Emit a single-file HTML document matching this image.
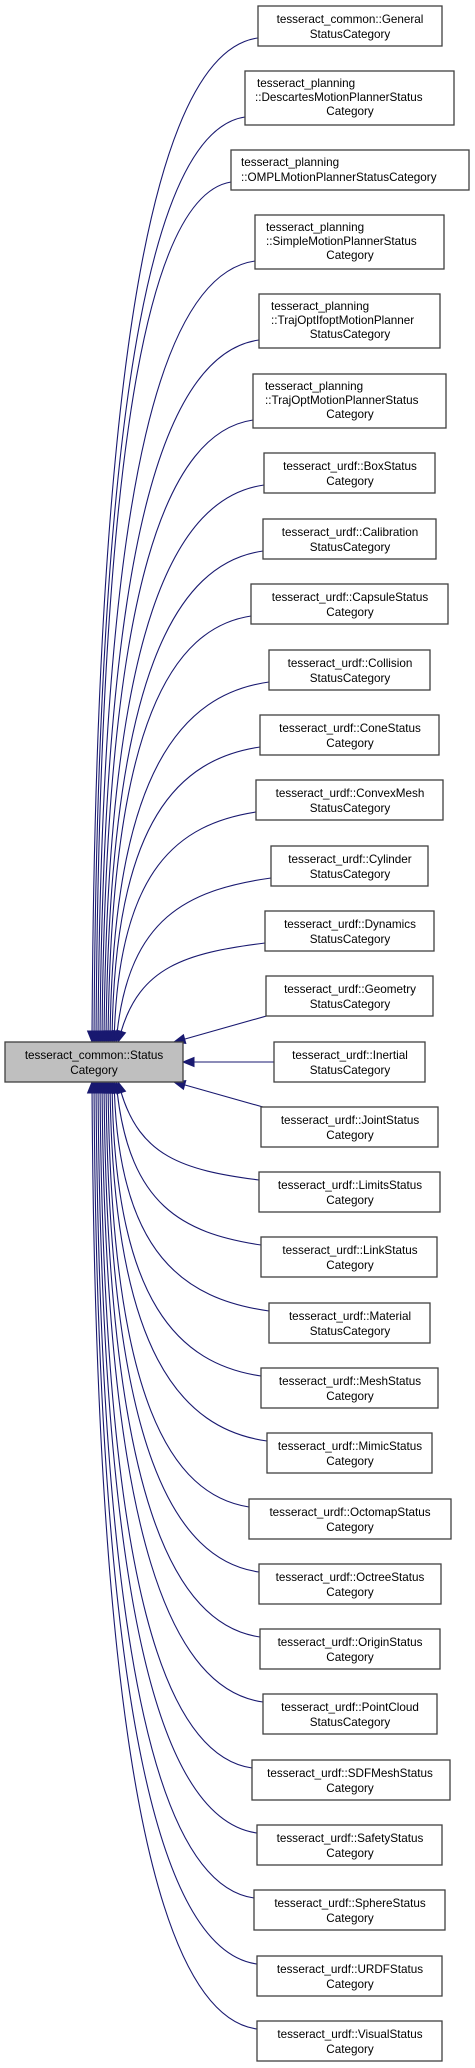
<!DOCTYPE html>
<html><head><meta charset="utf-8"><style>
html,body{margin:0;padding:0;background:#fff;width:475px;height:2068px;overflow:hidden}
svg{display:block}
text{font-family:"Liberation Sans",Arial,sans-serif;font-size:11.7px;fill:#000}
</style></head><body>
<svg id="s" width="475" height="2068" viewBox="0 0 475 2068" xmlns="http://www.w3.org/2000/svg">
<g id="edges" fill="none" stroke="#191970" stroke-width="1.1"></g>
<g id="heads" fill="#191970" stroke="#191970"></g>
<g stroke="#404040" stroke-width="1.3">
<rect x="5" y="1042" width="178" height="40" fill="#bfbfbf"/>
</g>
<text x="94" y="1059" text-anchor="middle">tesseract_common::Status</text>
<text x="94" y="1074" text-anchor="middle">Category</text>
<g id="boxes" fill="#fff" stroke="#404040" stroke-width="1.3">
<rect x="258" y="6" width="184" height="40"/>
<rect x="245" y="71" width="209" height="54"/>
<rect x="231" y="150" width="238" height="40"/>
<rect x="255" y="215" width="189" height="54"/>
<rect x="259" y="294" width="181" height="54"/>
<rect x="253" y="374" width="193" height="54"/>
<rect x="264" y="453" width="171" height="40"/>
<rect x="263" y="519" width="173" height="40"/>
<rect x="251" y="584" width="197" height="40"/>
<rect x="269" y="650" width="161" height="40"/>
<rect x="260" y="715" width="179" height="40"/>
<rect x="256" y="780" width="187" height="40"/>
<rect x="271" y="846" width="157" height="40"/>
<rect x="265" y="911" width="169" height="40"/>
<rect x="266" y="976" width="167" height="40"/>
<rect x="274" y="1042" width="151" height="40"/>
<rect x="261" y="1107" width="177" height="40"/>
<rect x="259" y="1172" width="181" height="40"/>
<rect x="261" y="1237" width="176" height="40"/>
<rect x="269" y="1303" width="161" height="40"/>
<rect x="261" y="1368" width="177" height="40"/>
<rect x="267" y="1433" width="165" height="40"/>
<rect x="249" y="1499" width="202" height="40"/>
<rect x="259" y="1564" width="182" height="40"/>
<rect x="260" y="1629" width="180" height="40"/>
<rect x="263" y="1694" width="174" height="40"/>
<rect x="252" y="1760" width="198" height="40"/>
<rect x="257" y="1825" width="185" height="40"/>
<rect x="254" y="1890" width="191" height="40"/>
<rect x="257" y="1956" width="185" height="40"/>
<rect x="257" y="2021" width="185" height="40"/>
</g>
<g text-anchor="middle">
<text x="350" y="23">tesseract_common::General</text><text x="350" y="38">StatusCategory</text>
<text x="257" y="87" text-anchor="start">tesseract_planning</text><text x="255" y="101" text-anchor="start">::DescartesMotionPlannerStatus</text><text x="350" y="115">Category</text>
<text x="241" y="166" text-anchor="start">tesseract_planning</text><text x="241" y="181" text-anchor="start">::OMPLMotionPlannerStatusCategory</text>
<text x="266" y="231" text-anchor="start">tesseract_planning</text><text x="266" y="245" text-anchor="start">::SimpleMotionPlannerStatus</text><text x="350" y="259">Category</text>
<text x="271" y="310" text-anchor="start">tesseract_planning</text><text x="271" y="324" text-anchor="start">::TrajOptIfoptMotionPlanner</text><text x="350" y="338">StatusCategory</text>
<text x="265" y="390" text-anchor="start">tesseract_planning</text><text x="265" y="404" text-anchor="start">::TrajOptMotionPlannerStatus</text><text x="350" y="418">Category</text>
<text x="350" y="470">tesseract_urdf::BoxStatus</text><text x="350" y="485">Category</text>
<text x="350" y="536">tesseract_urdf::Calibration</text><text x="350" y="551">StatusCategory</text>
<text x="350" y="601">tesseract_urdf::CapsuleStatus</text><text x="350" y="616">Category</text>
<text x="350" y="667">tesseract_urdf::Collision</text><text x="350" y="682">StatusCategory</text>
<text x="350" y="732">tesseract_urdf::ConeStatus</text><text x="350" y="747">Category</text>
<text x="350" y="797">tesseract_urdf::ConvexMesh</text><text x="350" y="812">StatusCategory</text>
<text x="350" y="863">tesseract_urdf::Cylinder</text><text x="350" y="878">StatusCategory</text>
<text x="350" y="928">tesseract_urdf::Dynamics</text><text x="350" y="943">StatusCategory</text>
<text x="350" y="993">tesseract_urdf::Geometry</text><text x="350" y="1008">StatusCategory</text>
<text x="350" y="1059">tesseract_urdf::Inertial</text><text x="350" y="1074">StatusCategory</text>
<text x="350" y="1124">tesseract_urdf::JointStatus</text><text x="350" y="1139">Category</text>
<text x="350" y="1189">tesseract_urdf::LimitsStatus</text><text x="350" y="1204">Category</text>
<text x="350" y="1254">tesseract_urdf::LinkStatus</text><text x="350" y="1269">Category</text>
<text x="350" y="1320">tesseract_urdf::Material</text><text x="350" y="1335">StatusCategory</text>
<text x="350" y="1385">tesseract_urdf::MeshStatus</text><text x="350" y="1400">Category</text>
<text x="350" y="1450">tesseract_urdf::MimicStatus</text><text x="350" y="1465">Category</text>
<text x="350" y="1516">tesseract_urdf::OctomapStatus</text><text x="350" y="1531">Category</text>
<text x="350" y="1581">tesseract_urdf::OctreeStatus</text><text x="350" y="1596">Category</text>
<text x="350" y="1646">tesseract_urdf::OriginStatus</text><text x="350" y="1661">Category</text>
<text x="350" y="1711">tesseract_urdf::PointCloud</text><text x="350" y="1726">StatusCategory</text>
<text x="350" y="1777">tesseract_urdf::SDFMeshStatus</text><text x="350" y="1792">Category</text>
<text x="350" y="1842">tesseract_urdf::SafetyStatus</text><text x="350" y="1857">Category</text>
<text x="350" y="1907">tesseract_urdf::SphereStatus</text><text x="350" y="1922">Category</text>
<text x="350" y="1973">tesseract_urdf::URDFStatus</text><text x="350" y="1988">Category</text>
<text x="350" y="2038">tesseract_urdf::VisualStatus</text><text x="350" y="2053">Category</text>
</g>
</svg>
<script>
(function(){
var NS="http://www.w3.org/2000/svg";
var E=document.getElementById("edges"),H=document.getElementById("heads");
var rects=document.querySelectorAll("#boxes rect");
function head(tx,ty,fx,fy){
  var dx=tx-fx,dy=ty-fy,l=Math.sqrt(dx*dx+dy*dy);dx/=l;dy/=l;
  var L=11,W=4.5,bx=tx-dx*L,by=ty-dy*L;
  var p=document.createElementNS(NS,"polygon");
  p.setAttribute("points",tx+","+ty+" "+(bx-dy*W)+","+(by+dx*W)+" "+(bx+dy*W)+","+(by-dx*W));
  H.appendChild(p);return [bx,by];
}
function path(d){var p=document.createElementNS(NS,"path");p.setAttribute("d",d);E.appendChild(p);}
var above=[],below=[];
for(var i=0;i<rects.length;i++){
  var r=rects[i],x=+r.getAttribute("x"),y=+r.getAttribute("y"),h=+r.getAttribute("height");
  if(i==15){var b=head(183,1062,274,1062);path("M274,1062 L"+b[0]+","+b[1]);continue;}
  if(i==14){var b=head(174,1042,270,1016);path("M270,1015 L"+b[0]+","+b[1]);continue;}
  if(i==16){var b=head(174,1082,270,1108);path("M270,1109 L"+b[0]+","+b[1]);continue;}
  if(i<14)above.push([x,y,h]);else below.push([x,y,h]);
}
function edge(sx,sy,tx,ty){
  var dir=ty>sy?1:-1,dist=Math.abs(ty-sy);
  var c1x=sx-0.55*(sx-tx),c1y=sy+dir*Math.min(12,dist*0.1);
  var c2x=tx+4+Math.max(0,(250-dist))*0.12,c2y=sy+dir*0.25*dist;
  var b=head(tx,ty,c2x,c2y);
  path("M"+sx+","+sy+" C"+c1x+","+c1y+" "+c2x+","+c2y+" "+b[0]+","+b[1]);
}
var n=above.length;
for(var k=0;k<n;k++){
  var a=above[k],t=k/(n-1);
  edge(a[0],a[1]+a[2]-8,92+t*26,1042);
}
var m=below.length;
for(var k=0;k<m;k++){
  var a=below[k],t=1-k/(m-1);
  edge(a[0],a[1]+8,92+t*26,1082);
}
})();
</script>
</body></html>
